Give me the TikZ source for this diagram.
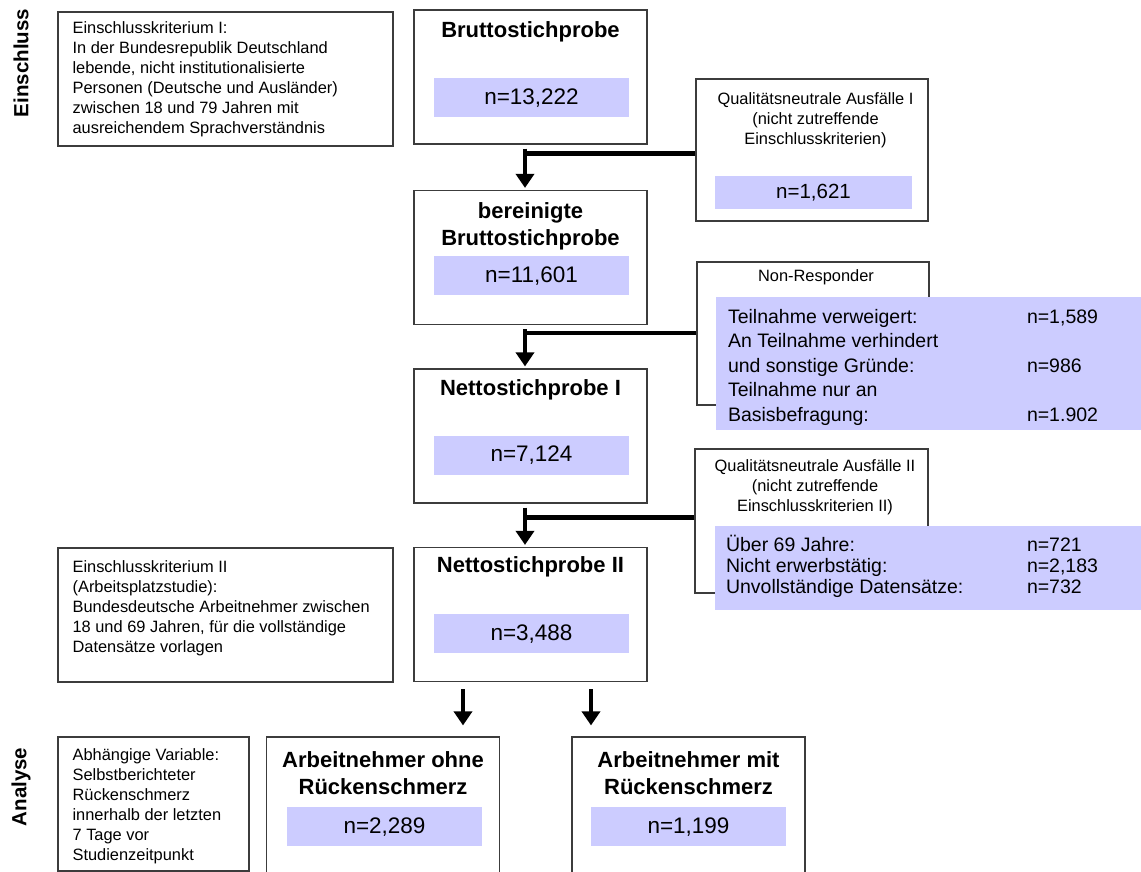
\documentclass[tikz,border=0pt]{standalone}
\usepackage{fontspec}
\setmainfont{Liberation Sans}
\usetikzlibrary{arrows.meta,calc}
\definecolor{numblue}{RGB}{204,204,255}
\definecolor{boxline}{RGB}{60,60,60}
\begin{document}
\begin{tikzpicture}[x=1pt,y=-1pt]
\tikzstyle{boxframe} = [
  draw = boxline,
  line width=1.2pt,
  inner sep=0pt
]
\tikzstyle{mainbox} = [boxframe, minimum width=233pt, minimum height=134pt]
\tikzstyle{sidebox} = [boxframe, minimum width=232pt, minimum height=143pt]
\tikzstyle{boxtitle} = [
  inner sep=0pt,
  align=center,
  font=\fontsize{22}{27}\selectfont\bfseries
]
\tikzstyle{numbox} = [
  fill = numblue,
  inner sep=0pt,
  minimum width=195pt,
  minimum height=39pt,
  font=\fontsize{22.5}{27}\selectfont
]
\tikzstyle{smalltext} = [inner sep=0pt, font=\fontsize{16.4}{20}\selectfont]
\tikzstyle{listtext} = [inner sep=0pt, align=left, anchor=north west]
\tikzstyle{phaselabel} = [rotate=90, inner sep=0pt, font=\fontsize{20.5}{24}\selectfont\bfseries]
\tikzstyle{bigline} = [line width=4.5pt]
\tikzstyle{bigarrow} = [line width=4.5pt, -{Triangle[length=14pt,width=18pt]}]

\useasboundingbox (0,0) rectangle (1141,872);
\clip (0,0) rectangle (1141,872);

\node [phaselabel] (einschluss) at (21,63) {Einschluss};
\node [phaselabel] (analyse) at (21,787) {Analyse};

\node [boxframe, minimum width=335pt, minimum height=134pt] (krit1) at (225.5,79) {};
\node [smalltext, listtext] (krit1-t) at ($(krit1.north west)+(15,10)$) {Einschlusskriterium I:\\In der Bundesrepublik Deutschland\\lebende, nicht institutionalisierte\\Personen (Deutsche und Ausländer)\\zwischen 18 und 79 Jahren mit\\ausreichendem Sprachverständnis};
\node [boxframe, minimum width=335pt, minimum height=134pt] (krit2) at (225.5,615) {};
\node [smalltext, listtext] (krit2-t) at ($(krit2.north west)+(15,13)$) {Einschlusskriterium II\\(Arbeitsplatzstudie):\\Bundesdeutsche Arbeitnehmer zwischen\\18 und 69 Jahren, für die vollständige\\Datensätze vorlagen};
\node [boxframe, minimum width=191pt, minimum height=134pt] (depvar) at (153.5,804) {};
\node [smalltext, listtext] (depvar-t) at ($(depvar.north west)+(15,12)$) {Abhängige Variable:\\Selbstberichteter\\Rückenschmerz\\innerhalb der letzten\\7 Tage vor\\Studienzeitpunkt};

\node [mainbox] (brutto) at (530.5,77) {};
\node [mainbox] (bereinigt) at (530.5,257.5) {};
\node [mainbox] (netto1) at (530.5,436) {};
\node [mainbox] (netto2) at (530.5,614.5) {};
\node [mainbox, minimum height=150pt] (ohne) at (383,812) {};
\node [mainbox, minimum height=150pt] (mit) at (688.5,812) {};

\node [boxtitle] (brutto-t) at ($(brutto.north)+(0,22)$) {Bruttostichprobe};
\node [boxtitle] (bereinigt-t) at ($(bereinigt.north)+(0,36.5)$) {bereinigte\\Bruttostichprobe};
\node [boxtitle] (netto1-t) at ($(netto1.north)+(0,21)$) {Nettostichprobe I};
\node [boxtitle] (netto2-t) at ($(netto2.north)+(0,20)$) {Nettostichprobe II};
\node [boxtitle] (ohne-t) at ($(ohne.north)+(0,36.5)$) {Arbeitnehmer ohne\\Rückenschmerz};
\node [boxtitle] (mit-t) at ($(mit.north)+(0,36.5)$) {Arbeitnehmer mit\\Rückenschmerz};

\node [numbox] (brutto-n) at ($(brutto.north)+(1,88.5)$) {n=13,222};
\node [numbox] (bereinigt-n) at ($(bereinigt.north)+(1,86)$) {n=11,601};
\node [numbox] (netto1-n) at ($(netto1.north)+(1,87)$) {n=7,124};
\node [numbox] (netto2-n) at ($(netto2.north)+(1,87)$) {n=3,488};
\node [numbox] (ohne-n) at ($(ohne.north)+(1.5,90.5)$) {n=2,289};
\node [numbox] (mit-n) at ($(mit.north)+(0,90.5)$) {n=1,199};

\node [sidebox, minimum height=142pt] (ausfall1) at (812,150) {};
\node [smalltext, align=center] (ausfall1-t) at ($(ausfall1.north)+(3.5,42)$) {Qualitätsneutrale Ausfälle I\\(nicht zutreffende\\Einschlusskriterien)};
\node [numbox, minimum width=197pt, minimum height=33pt, font=\fontsize{20.5}{24}\selectfont] (ausfall1-n) at (813.5,192.5) {n=1,621};

\node [sidebox] (nonresp) at (813,333.5) {};
\node [smalltext] (nonresp-t) at ($(nonresp.north)+(3,16)$) {Non-Responder};
\node [numbox, minimum width=425pt, minimum height=133pt] (nonresp-n) at (928.5,363.5) {};
\node [listtext, font=\fontsize{19.5}{24.5}\selectfont] (nonresp-l) at ($(nonresp-n.north west)+(12,12)$) {\makebox[299pt][l]{Teilnahme verweigert:}n=1,589\\An Teilnahme verhindert\\\makebox[299pt][l]{und sonstige Gründe:}n=986\\Teilnahme nur an\\\makebox[299pt][l]{Basisbefragung:}n=1.902};

\node [sidebox, minimum width=233pt, minimum height=144pt] (ausfall2) at (811.5,521) {};
\node [smalltext, align=center] (ausfall2-t) at ($(ausfall2.north)+(3.5,38.5)$) {Qualitätsneutrale Ausfälle II\\(nicht zutreffende\\Einschlusskriterien II)};
\node [numbox, minimum width=426pt, minimum height=84pt] (ausfall2-n) at (928,568) {};
\node [listtext, font=\fontsize{19.5}{21}\selectfont] (ausfall2-l) at ($(ausfall2-n.north west)+(11,9)$) {\makebox[301pt][l]{Über 69 Jahre:}n=721\\\makebox[301pt][l]{Nicht erwerbstätig:}n=2,183\\\makebox[301pt][l]{Unvollständige Datensätze:}n=732};

\coordinate (j1) at ($(brutto.south)+(-5.5,9)$);
\coordinate (j2) at ($(bereinigt.south)+(-5.5,8)$);
\coordinate (j3) at ($(netto1.south)+(-5.5,14)$);

\draw [bigline] (ausfall1.west |- j1) -- (j1);
\draw [bigline] (nonresp.west |- j2) -- (j2);
\draw [bigline] (ausfall2.west |- j3) -- (j3);
\draw [bigarrow] ($(brutto.south)+(-5.5,4)$) -- ($(bereinigt.north)+(-5.5,-2)$);
\draw [bigarrow] ($(bereinigt.south)+(-5.5,4)$) -- ($(netto1.north)+(-5.5,-2)$);
\draw [bigarrow] ($(netto1.south)+(-5.5,4)$) -- ($(netto2.north)+(-5.5,-2)$);
\draw [bigarrow] ($(netto2.south)+(-67.5,7)$) -- ($(ohne.north)+(80,-11)$);
\draw [bigarrow] ($(netto2.south)+(60.5,7)$) -- ($(mit.north)+(-97.5,-11)$);

\end{tikzpicture}
\end{document}
